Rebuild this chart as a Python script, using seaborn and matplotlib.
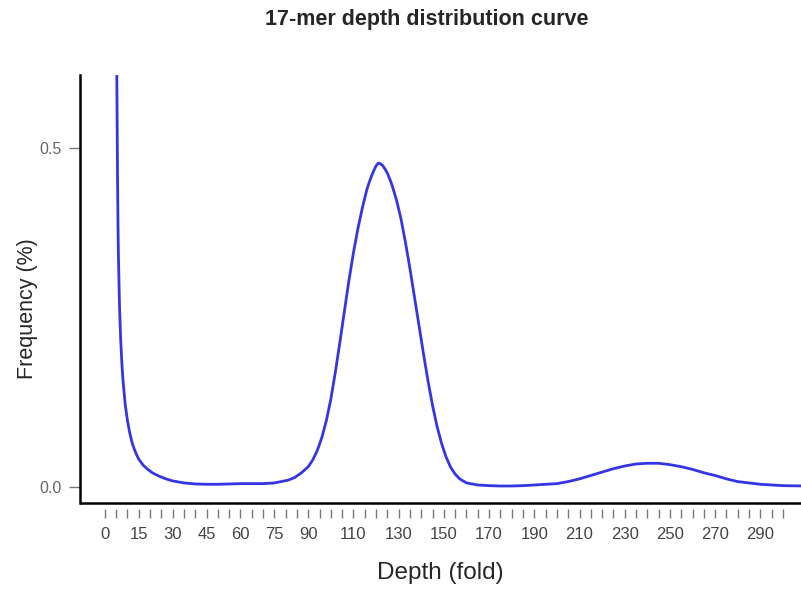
import numpy as np
import pandas as pd
import seaborn as sns
import matplotlib
matplotlib.use("Agg")
import matplotlib.pyplot as plt

# values
depth = [5.0, 5.3, 5.6, 5.8, 6.0, 6.5, 7.0, 7.5, 8.0, 9.0, 10, 11, 12, 13, 14, 15, 17, 19, 21, 24, 27, 30,
         35, 40, 45, 50, 55, 60, 65, 70, 75, 78, 81, 84, 87, 90, 92, 94, 96, 98, 100, 102, 104,
         106, 108, 110, 112, 114, 116, 117, 118, 119, 120, 121, 122, 123, 124, 125, 126, 127, 129, 131, 133, 135, 137, 139, 141,
         143, 145, 147, 149, 151, 153, 155, 157, 160, 165, 170, 175, 180, 185, 190, 195, 200,
         205, 210, 215, 220, 225, 230, 235, 240, 245, 250, 255, 260, 265, 270, 275, 280,
         285, 290, 295, 300, 310]
freq = [0.75, 0.60, 0.46, 0.39, 0.34, 0.265, 0.218, 0.184, 0.158, 0.122, 0.098, 0.080, 0.066, 0.056, 0.048, 0.041,
        0.032, 0.026, 0.021, 0.016, 0.012, 0.009,
        0.006, 0.0045, 0.004, 0.004, 0.0045, 0.005, 0.005, 0.005, 0.006, 0.008, 0.010, 0.014, 0.021, 0.030,
        0.040, 0.054, 0.073, 0.098, 0.130, 0.170, 0.214,
        0.260, 0.305, 0.346, 0.382, 0.413, 0.440, 0.450, 0.459, 0.467, 0.474, 0.478, 0.477, 0.474, 0.469, 0.463,
        0.455, 0.446, 0.424, 0.396, 0.361,
        0.322, 0.280, 0.238, 0.196,
        0.156, 0.120, 0.089, 0.064, 0.044, 0.029, 0.019, 0.012, 0.006, 0.003, 0.002, 0.0015, 0.0015, 0.002, 0.003, 0.004, 0.005,
        0.008, 0.012, 0.017, 0.022, 0.027, 0.031, 0.034, 0.035, 0.035, 0.033, 0.030, 0.026, 0.021, 0.017, 0.012, 0.008,
        0.006, 0.004, 0.003, 0.002, 0.0015]

x_ticks = list(range(0, 305, 5))
x_labels = [0, 15, 30, 45, 60, 75, 90, 110, 130, 150, 170, 190, 210, 230, 250, 270, 290]
y_ticks = [0.0, 0.5]

df = pd.DataFrame({"depth": depth, "freq": freq})

sns.set_style("white")
plt.rcParams["font.family"] = ["Liberation Sans", "DejaVu Sans"]

fig = plt.figure(figsize=(8.01, 5.90), dpi=100)
ax = fig.add_axes([80 / 801, 1 - 503 / 590, 1 - 80 / 801, (503 - 75) / 590])

sns.lineplot(data=df, x="depth", y="freq", color="#3535e8", linewidth=2.0, ax=ax)

ax.set_xlim(-11, 308)
ax.set_ylim(-0.0236, 0.608)

ax.set_xticks(x_ticks)
ax.set_xticklabels([str(t) if t in x_labels else "" for t in x_ticks])
ax.set_yticks(y_ticks)
ax.set_yticklabels(["0.0", "0.5"])

ax.spines["top"].set_visible(False)
ax.spines["right"].set_visible(False)
ax.spines["left"].set_linewidth(1.8)
ax.spines["left"].set_color("black")
# ticks sit a little below the frame line, R style
ax.spines["bottom"].set_position(("outward", 4))
ax.spines["bottom"].set_visible(False)
ax.plot([0, 1], [0, 0], transform=ax.transAxes, color="black", lw=1.8,
        clip_on=False, solid_capstyle="butt")

ax.tick_params(axis="x", direction="out", length=6.5, width=1.0, color="#777777",
               labelsize=12, labelcolor="#444444", pad=7, bottom=True)
ax.tick_params(axis="y", direction="out", length=8, width=1.0, color="#777777",
               labelsize=11.5, labelcolor="#666666", pad=5, left=True)

ax.set_xlabel("Depth (fold)", fontsize=17.5, labelpad=14)
ax.set_ylabel("Frequency (%)", fontsize=15.5)
ax.yaxis.set_label_coords(-0.058, 0.453)

fig.text(427 / 801, 1 - 20 / 590, "17-mer depth distribution curve",
         ha="center", va="center", fontsize=15.5, fontweight="bold")

fig.savefig("out.png", dpi=100)
